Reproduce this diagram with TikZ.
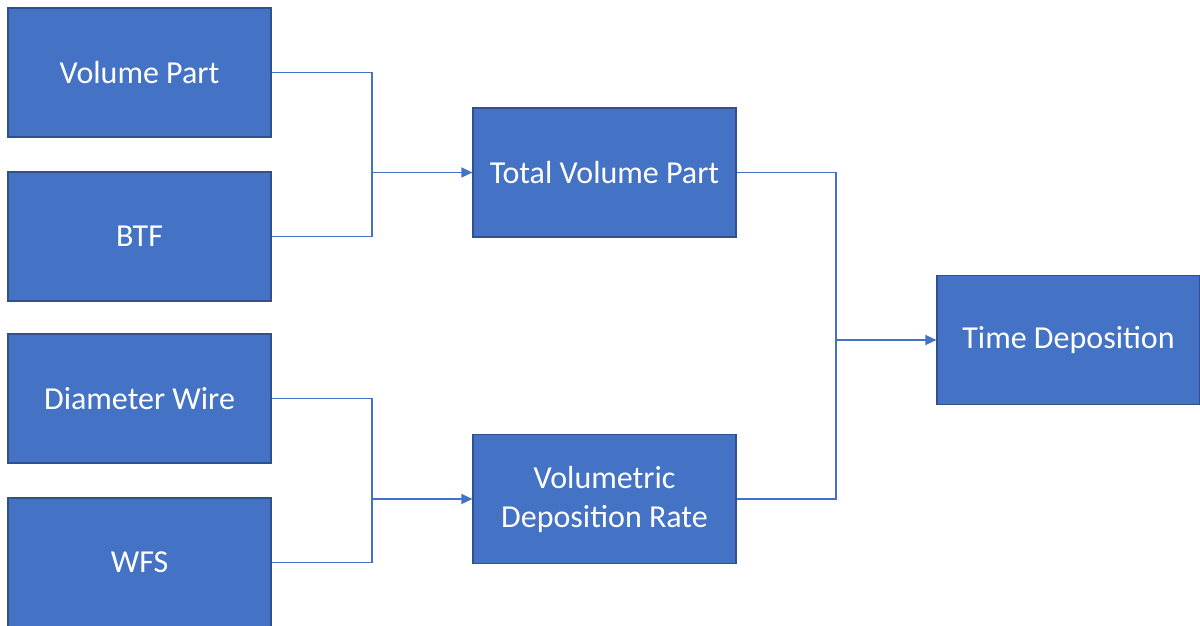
\documentclass[tikz,border=0pt]{standalone}
\usepackage{fontspec}
\setmainfont{Carlito}
\usetikzlibrary{arrows.meta}
\definecolor{boxfill}{HTML}{4472C4}
\definecolor{boxline}{HTML}{2F528F}
\begin{document}
\begin{tikzpicture}[x=1pt,y=-1pt,
  blk/.style={draw=boxline,line width=1.2pt,fill=boxfill,text=white,minimum width=263pt,minimum height=129pt,inner sep=0pt,align=center,font=\fontsize{32}{39}\selectfont},
  conn/.style={draw=boxfill,line width=1.5pt},
  arr/.style={conn,-{Triangle[length=11pt,width=10pt]}}]
\useasboundingbox (0,0) rectangle (1200,626);
\node[blk] (vp) at (139.5,72.5) {Volume Part};
\node[blk] (btf) at (139.5,236.5) {BTF};
\node[blk] (dw) at (139.5,398.5) {Diameter Wire};
\node[blk] (wfs) at (139.5,562.5) {WFS};
\node[blk] (tvp) at (604.5,172.5) {Total Volume Part};
\node[blk] (vdr) at (604.5,499) {Volumetric\\Deposition Rate};
\node[blk] (td) at (1068.5,340) {Time Deposition};
\coordinate (j1) at (372,172.5);
\coordinate (j2) at (372,499);
\coordinate (j3) at (836,340);
\draw[conn] (vp.east) -| (j1) |- (btf.east);
\draw[arr] (j1) -- (tvp.west);
\draw[conn] (dw.east) -| (j2) |- (wfs.east);
\draw[arr] (j2) -- (vdr.west);
\draw[conn] (tvp.east) -| (j3) |- (vdr.east);
\draw[arr] (j3) -- (td.west);
\end{tikzpicture}
\end{document}
